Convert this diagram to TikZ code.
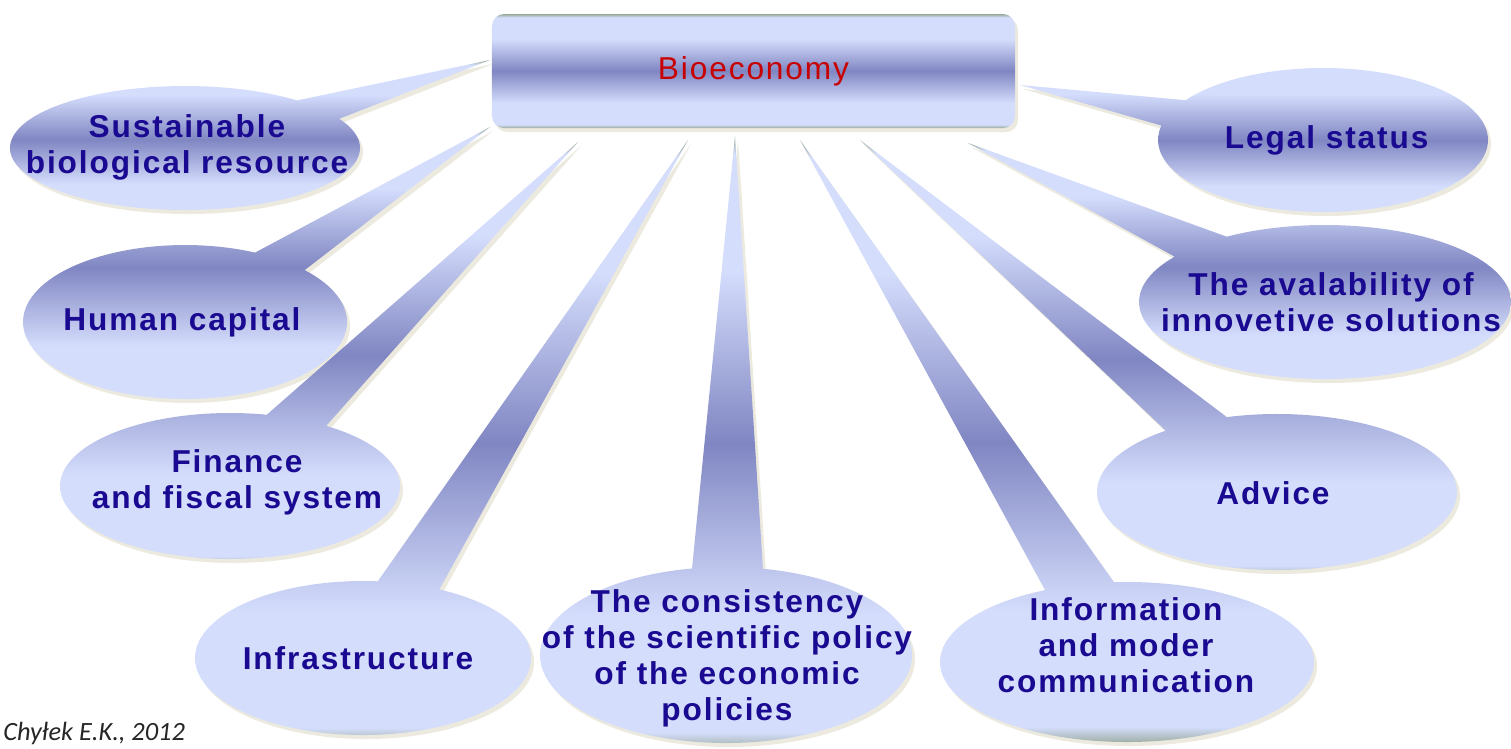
\documentclass[tikz,border=0pt]{standalone}
\usepackage{fontspec}
\setmainfont{Liberation Sans}
\newfontfamily\bubblefont{Liberation Sans}[LetterSpace=6]
\newfontfamily\sourcefont{Carlito}
\usetikzlibrary{shadows}

\definecolor{edgegreen}{RGB}{150,168,152}
\definecolor{lightblue}{RGB}{212,221,252}
\definecolor{midblue}{RGB}{128,134,194}
\definecolor{shadowbeige}{RGB}{236,234,222}
\definecolor{navytext}{RGB}{26,10,145}
\definecolor{biored}{RGB}{200,0,0}

\pgfdeclareverticalshading{bubble}{100bp}{color(0bp)=(edgegreen); color(25bp)=(edgegreen);
  color(26.5bp)=(lightblue); color(36bp)=(lightblue); color(50bp)=(midblue);
  color(64bp)=(lightblue); color(73.5bp)=(lightblue); color(75bp)=(edgegreen); color(100bp)=(edgegreen)}

\begin{document}
\begin{tikzpicture}[
    x=0.2mm, y=-0.2mm,
    bubbletext/.style={align=center, inner sep=0pt, text=navytext,
      font=\bubblefont\fontsize{18}{20.5}\bfseries\selectfont},
    biobox/.style={shade, shading=bubble, rounded corners=2.4mm,
      minimum width=104.6mm, minimum height=22.8mm, text=biored,
      font=\bubblefont\fontsize{18}{20.5}\selectfont,
      drop shadow={shadow xshift=0.6mm, shadow yshift=-0.8mm, fill=shadowbeige, opacity=1}},
  ]
  \useasboundingbox (0,0) rectangle (1511,748);
  \foreach \cx/\cy/\rx/\ry/\tx/\ty/\lx/\ly/\name/\lbl in {
    185/148/175/62/490/60/187/147/sust/{Sustainable\\biological resource},
    185/322/162/77/490/127/182/322/human/{Human capital},
    230/486/170/73/578/142/237/482/finance/{Finance\\and fiscal system},
    363/658/168/77/688/140/358/658/infra/{Infrastructure},
    726/655/186/88/735/136/727/658/consist/{The consistency\\of the scientific policy\\of the economic\\policies},
    1127/662/187/80/800/140/1126/645/inform/{Information\\and moder\\communication},
    1277/492/180/78/860/140/1273/493/advice/{Advice},
    1325/302/186/77/968/143/1331/302/avail/{The avalability of\\innovetive solutions},
    1323/140/165/72/1020/85/1332/140/legal/{Legal status}
  } {
    \coordinate (c-\name) at (\cx,\cy);
    \coordinate (tip-\name) at (\tx,\ty);
    \coordinate (sc-\name) at ([shift={(3,4)}]c-\name);
    \coordinate (stip-\name) at ([shift={(3,4)}]tip-\name);
    \pgfmathsetmacro\ang{atan2((\ty-\cy)/\ry,(\tx-\cx)/\rx)}
    \pgfmathsetmacro\angA{\ang+11}
    \pgfmathsetmacro\angB{\ang+349}
    \fill[shadowbeige] (stip-\name) -- ([shift={(sc-\name)}]\angA:{\rx} and {\ry})
      arc[start angle=\angA, end angle=\angB, x radius=\rx, y radius=\ry] -- cycle;
    \shade[shading=bubble] (tip-\name) -- ([shift={(c-\name)}]\angA:{\rx} and {\ry})
      arc[start angle=\angA, end angle=\angB, x radius=\rx, y radius=\ry] -- cycle;
    \node[bubbletext] (\name) at (\lx,\ly) {\lbl};
  }
  \node[biobox] (bio) at (753.5,71) {Bioeconomy};
  \node[anchor=base west, inner sep=0pt, text=black!85,
    font=\sourcefont\itshape\fontsize{15}{18}\selectfont] (src) at (3,740) {Chyłek E.K., 2012};
\end{tikzpicture}
\end{document}
